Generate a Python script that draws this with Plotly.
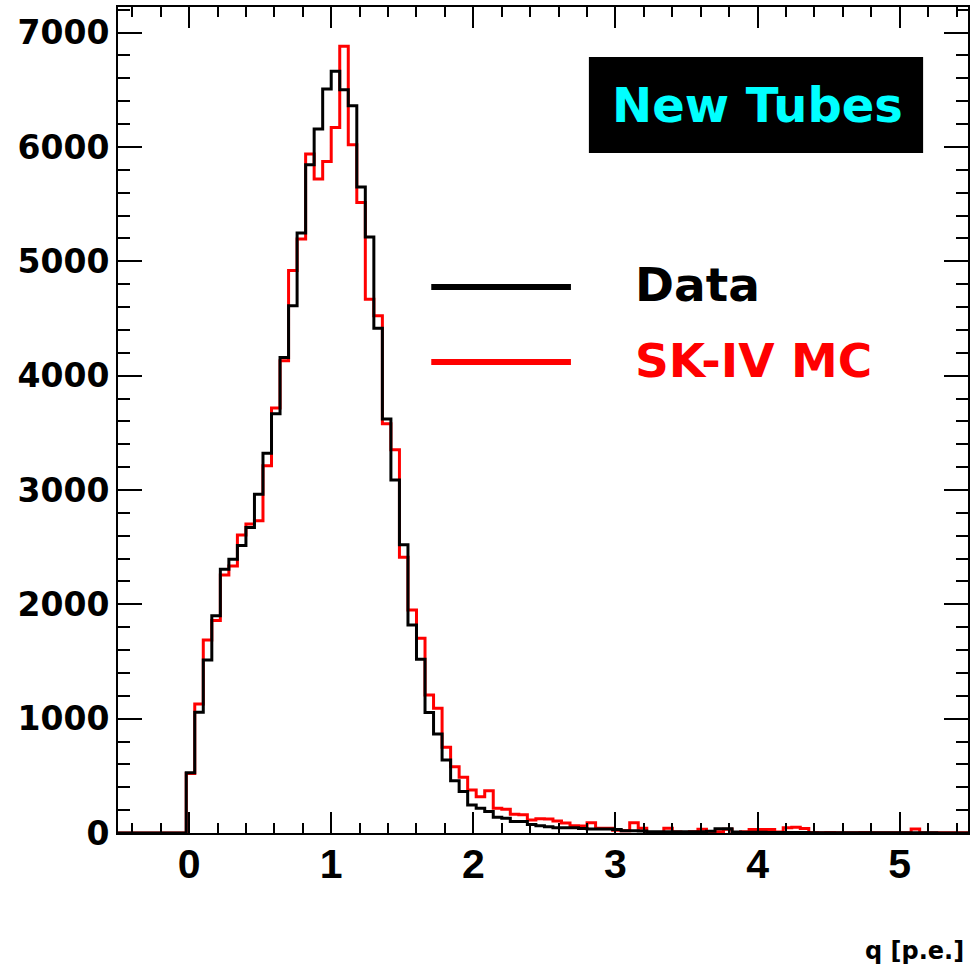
import numpy as np
import plotly.graph_objects as go

# Histogram binning (100 bins from -0.5 to 5.5)
BIN_LO = -0.5
BIN_W = 0.06
N_BINS = 100

# Bin contents (bins 0..99)
data_counts = [0] * 8 + [
    528, 1056, 1514, 1901, 2307, 2395, 2514, 2671, 2963, 3322,
    3666, 4159, 4611, 5247, 5844, 6157, 6506, 6662, 6500, 6361,
    5649, 5212, 4415, 3620, 3088, 2520, 1820, 1519, 1053, 866,
    639, 458, 362, 245, 216, 187, 137, 128, 100, 100,
    75, 64, 55, 47, 47, 47, 40, 35, 35, 35,
    30, 20, 20, 18, 12, 12, 12, 10, 10, 10,
    12, 15, 37, 37, 8, 6, 6, 6, 5, 5,
    5, 4, 4, 3, 3, 3, 2, 3, 2, 2,
    2, 2, 2, 2, 2, 2, 2, 2, 1, 1, 1, 1,
]
mc_counts = [0] * 8 + [
    520, 1129, 1689, 1858, 2257, 2336, 2607, 2703, 2730, 3211,
    3716, 4130, 4920, 5194, 5938, 5719, 5873, 6171, 6880, 6019,
    5515, 4669, 4523, 3580, 3351, 2412, 1951, 1703, 1207, 1091,
    750, 580, 487, 376, 318, 370, 216, 207, 165, 160,
    114, 125, 122, 105, 88, 64, 62, 90, 41, 41,
    25, 20, 90, 41, 5, 3, 41, 8, 5, 10,
    32, 8, 10, 32, 5, 10, 30, 30, 30, 8,
    45, 50, 40, 5, 3, 4, 3, 2, 3, 4,
    3, 3, 3, 3, 3, 35, 3, 2, 2, 3, 2, 2,
]

x_ticks = [0, 1, 2, 3, 4, 5]
x_tick_text = ["0", "1", "2", "3", "4", "5"]
y_ticks = [0, 1000, 2000, 3000, 4000, 5000, 6000, 7000]
y_tick_text = ["0", "1000", "2000", "3000", "4000", "5000", "6000", "7000"]

edges = BIN_LO + BIN_W * np.arange(N_BINS + 1)


def step_xy(counts):
    c = np.asarray(counts[:N_BINS], dtype=float)
    xs = np.append(edges[:-1], edges[-1])
    ys = np.append(c, c[-1])
    return xs, ys


fig = go.Figure()
xm, ym = step_xy(mc_counts)
fig.add_trace(go.Scatter(x=xm, y=ym, mode="lines", line=dict(color="#ff0000", width=3, shape="hv"),
                         name="SK-IV MC", showlegend=False, hoverinfo="skip"))
xd, yd = step_xy(data_counts)
fig.add_trace(go.Scatter(x=xd, y=yd, mode="lines", line=dict(color="#000000", width=3, shape="hv"),
                         name="Data", showlegend=False, hoverinfo="skip"))

W, H = 970, 967
L, R, T, B = 118, 0, 7, 134
pw, ph = W - L - R, H - T - B


def px(x):
    return (x - L) / pw


def py(y):
    return (H - B - y) / ph


fig.update_layout(
    width=W, height=H,
    margin=dict(l=L, r=R, t=T, b=B),
    paper_bgcolor="white", plot_bgcolor="white",
    xaxis=dict(
        range=[-0.5, 5.48], tickmode="array", tickvals=x_ticks, ticktext=x_tick_text,
        ticks="inside", ticklen=21, tickwidth=1.5, tickcolor="black",
        showline=True, linecolor="black", linewidth=2, mirror="ticks",
        showgrid=False, zeroline=False,
        tickfont=dict(family="Liberation Sans", size=41, color="black", weight="bold"),
        ticklabelstandoff=-6,
        minor=dict(ticks="inside", ticklen=10, tickwidth=1.5, tickcolor="black", dtick=0.2, tick0=0, showgrid=False),
    ),
    yaxis=dict(
        range=[0, 7224], tickmode="array", tickvals=y_ticks, ticktext=y_tick_text,
        ticks="inside", ticklen=24, tickwidth=1.5, tickcolor="black",
        showline=True, linecolor="black", linewidth=2, mirror="ticks",
        showgrid=False, zeroline=False,
        tickfont=dict(family="DejaVu Sans", size=33, color="black", weight="bold"),
        minor=dict(ticks="inside", ticklen=12, tickwidth=1.5, tickcolor="black", dtick=200, tick0=0, showgrid=False),
    ),
)

# Legend samples
fig.add_shape(type="line", xref="paper", yref="paper", x0=px(432), x1=px(572), y0=py(287), y1=py(287),
              line=dict(color="black", width=6))
fig.add_shape(type="line", xref="paper", yref="paper", x0=px(432), x1=px(572), y0=py(362), y1=py(362),
              line=dict(color="#ff0000", width=6))
fig.add_annotation(xref="paper", yref="paper", x=px(634), y=py(285), text="Data", showarrow=False,
                   xanchor="left", yanchor="middle",
                   font=dict(family="DejaVu Sans", size=47, color="black", weight="bold"))
fig.add_annotation(xref="paper", yref="paper", x=px(634), y=py(360), text="SK-IV MC", showarrow=False,
                   xanchor="left", yanchor="middle",
                   font=dict(family="DejaVu Sans", size=47, color="#ff0000", weight="bold"))

# "New Tubes" box
fig.add_shape(type="rect", xref="paper", yref="paper", x0=px(590), x1=px(925), y0=py(153), y1=py(57),
              fillcolor="black", line=dict(color="black", width=0))
fig.add_annotation(xref="paper", yref="paper", x=px(759), y=py(105), text="New Tubes", showarrow=False,
                   xanchor="center", yanchor="middle",
                   font=dict(family="DejaVu Sans", size=48, color="#00ffff", weight="bold"))

# Axis title
fig.add_annotation(xref="paper", yref="paper", x=px(968), y=py(951), text="q [p.e.]", showarrow=False,
                   xanchor="right", yanchor="middle",
                   font=dict(family="DejaVu Sans", size=24, color="black", weight="bold"))

fig.write_html("out.html")
